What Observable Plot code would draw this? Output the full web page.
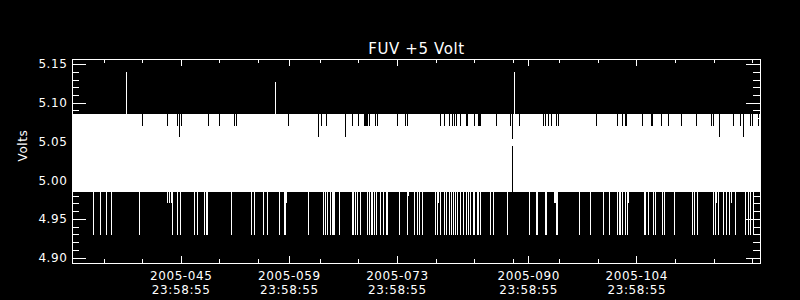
<!DOCTYPE html>
<html>
<head>
<meta charset="utf-8">
<script src="https://cdn.jsdelivr.net/npm/d3@7"></script>
<script src="https://cdn.jsdelivr.net/npm/@observablehq/plot@0.6"></script>
<style>
  html, body { margin: 0; padding: 0; background: #000; }
  #chart svg { display: block; }
  #chart svg text { letter-spacing: 0.6px; }
</style>
</head>
<body>
<div id="chart"></div>
<script>
// ---- data (day-of-year 2005, Volts) ----
const title = "FUV +5 Volt";
const yLabel = "Volts";
const xDomain = [31.92, 121.02];
const yDomain = [4.893, 5.1565];
const yMajor = [4.90, 4.95, 5.00, 5.05, 5.10, 5.15];
const yMinor = [4.91, 4.92, 4.93, 4.94, 4.96, 4.97, 4.98, 4.99, 5.01, 5.02, 5.03, 5.04,
                5.06, 5.07, 5.08, 5.09, 5.11, 5.12, 5.13, 5.14];
const xMajor = [45.9992, 59.9992, 73.9992, 90.9992, 104.9992];
const xLabels = ["2005-045\n23:58:55", "2005-059\n23:58:55", "2005-073\n23:58:55",
                 "2005-090\n23:58:55", "2005-104\n23:58:55"];
const xMinor = [36, 41, 51, 56, 64, 69, 79, 84, 89, 95, 100, 110, 115, 120];

// dense oscillation envelope of the telemetry
const seriesSpan = [[31.92, 121.02]];
const bandLow = 4.985, bandHigh = 5.085;

// times where the upper envelope only reached 5.070
const dipShort = [41.03, 44.19, 45.56, 46.04, 49.57, 51.00, 52.94, 53.20, 59.93, 64.13, 64.86,
  68.22, 69.00, 69.78, 69.91, 70.04, 70.17, 70.35, 71.20, 71.46, 74.05, 75.09, 75.35, 79.62,
  80.14, 80.75, 81.17, 81.43, 81.69, 82.13, 82.99, 83.12, 83.94, 84.46, 84.59, 84.72, 86.79,
  88.68, 89.85, 92.96, 93.14, 93.60, 93.95, 94.64, 94.90, 99.82, 102.54, 103.19, 103.50,
  103.67, 105.78, 106.87, 106.99, 108.24, 109.11, 110.83, 112.77, 114.71, 114.93, 117.52,
  118.47, 119.76, 120.02, 120.76];
const dipShortTo = 5.070;
// times where the upper envelope only reached 5.056
const dipLong = [45.82, 63.82, 67.24, 115.75, 118.86];
const dipLongTo = 5.056;

// low excursions to 4.929
const drops = [34.68, 35.59, 36.37, 36.94, 40.64, 44.91, 45.56, 45.95, 47.68, 48.15, 49.02,
  49.24, 49.44, 52.55, 55.07, 55.53, 56.70, 57.21, 58.69, 59.42, 59.55, 62.52, 64.47, 64.69,
  64.91, 65.30, 65.55, 65.72, 65.89, 66.54, 68.14, 68.35, 68.57, 68.87, 69.22, 70.17, 70.39,
  70.61, 70.77, 71.03, 71.33, 71.81, 72.24, 72.63, 72.76, 74.27, 75.27, 76.21, 76.56, 76.90,
  77.29, 78.97, 79.15, 79.58, 80.10, 80.40, 80.71, 81.00, 81.22, 81.52, 81.74, 82.17, 82.60,
  82.91, 83.17, 83.46, 83.81, 84.02, 84.33, 84.54, 84.76, 86.05, 86.40, 88.30, 91.07, 91.97,
  92.14, 93.18, 93.35, 94.64, 94.77, 97.62, 99.04, 100.73, 101.50, 102.46, 102.72, 102.93,
  103.19, 103.58, 103.76, 105.96, 106.17, 106.55, 107.20, 107.46, 108.29, 108.63, 109.88,
  112.17, 112.51, 112.86, 114.97, 115.15, 115.62, 116.27, 116.58, 117.01, 117.78, 119.04,
  119.47, 119.76, 120.07];
const dropsTo = 4.929;
// shallow low excursions
const dropsShallow = [44.26, 44.48, 44.70, 59.68, 79.36, 94.30, 94.47, 103.96, 115.32, 117.26];
const dropsShallowTo = 4.971;
const dropsTiny = [75.47];
const dropsTinyTo = 4.979;

// high spikes
const spikeDays = [38.95, 58.25, 89.20];
const spikeVals = [5.140, 5.127, 5.140];
// data gap around day 088.9
const gapDay = [88.94];
const gapTop = [5.053];
const gapBottom = [5.044];

// ---- layout ----
const W = 800, H = 300, mL = 72, mR = 40, mT = 59, mB = 37;
const plotW = W - mL - mR, plotH = H - mT - mB;
const yMajLen = 14, yMinLen = 7, xMajLen = 7, xMinLen = 4;
const crisp = {shapeRendering: "crispEdges"};

const chart = Plot.plot({
  width: W, height: H,
  marginLeft: mL, marginRight: mR, marginTop: mT, marginBottom: mB,
  x: {type: "linear", domain: xDomain, axis: null},
  y: {type: "linear", domain: yDomain, axis: null},
  style: {background: "black", color: "white", fontFamily: "DejaVu Sans"},
  marks: [
    Plot.rect(seriesSpan, {x1: d => d[0], x2: d => d[1], y1: () => bandLow, y2: () => bandHigh, fill: "white", ...crisp}),
    Plot.ruleX(drops, {x: d => d, y1: () => bandLow, y2: () => dropsTo, stroke: "white", ...crisp}),
    Plot.ruleX(dropsShallow, {x: d => d, y1: () => bandLow, y2: () => dropsShallowTo, stroke: "white", ...crisp}),
    Plot.ruleX(dropsTiny, {x: d => d, y1: () => bandLow, y2: () => dropsTinyTo, stroke: "white", ...crisp}),
    Plot.ruleX(spikeDays, {x: d => d, y1: () => bandHigh, y2: (d, i) => spikeVals[i], stroke: "white", ...crisp}),
    Plot.ruleX(dipShort, {x: d => d, y1: () => bandHigh, y2: () => dipShortTo, stroke: "black", ...crisp}),
    Plot.ruleX(dipLong, {x: d => d, y1: () => bandHigh, y2: () => dipLongTo, stroke: "black", ...crisp}),
    Plot.ruleX(gapDay, {x: d => d, y1: () => bandHigh, y2: (d, i) => gapTop[i], stroke: "black", ...crisp}),
    Plot.ruleX(gapDay, {x: d => d, y1: (d, i) => gapBottom[i], y2: () => bandLow, stroke: "black", ...crisp}),
    // y ticks (left & right, inward)
    Plot.tickY(yMajor, {y: d => d, stroke: "white", insetRight: plotW - yMajLen, ...crisp}),
    Plot.tickY(yMinor, {y: d => d, stroke: "white", insetRight: plotW - yMinLen, ...crisp}),
    Plot.tickY(yMajor, {y: d => d, stroke: "white", insetLeft: plotW - yMajLen, ...crisp}),
    Plot.tickY(yMinor, {y: d => d, stroke: "white", insetLeft: plotW - yMinLen, ...crisp}),
    // x ticks (bottom & top, inward)
    Plot.tickX(xMajor, {x: d => d, stroke: "white", insetTop: plotH - xMajLen, ...crisp}),
    Plot.tickX(xMinor, {x: d => d, stroke: "white", insetTop: plotH - xMinLen, ...crisp}),
    Plot.tickX(xMajor, {x: d => d, stroke: "white", insetBottom: plotH - xMajLen, ...crisp}),
    Plot.tickX(xMinor, {x: d => d, stroke: "white", insetBottom: plotH - xMinLen, ...crisp}),
    Plot.frame({stroke: "white", ...crisp}),
    // labels
    Plot.text(yMajor, {y: d => d, frameAnchor: "left", textAnchor: "end", dx: -5, text: d => d.toFixed(2), fill: "white", fontSize: 12}),
    Plot.text(xMajor, {x: d => d, frameAnchor: "bottom", lineAnchor: "top", dy: 6, lineHeight: 1.2, text: (d, i) => xLabels[i], fill: "white", fontSize: 12}),
    Plot.text([title], {frameAnchor: "top", lineAnchor: "bottom", dy: -6, text: d => d, fill: "white", fontSize: 15}),
    Plot.text([yLabel], {frameAnchor: "left", dx: -49, rotate: -90, text: d => d, fill: "white", fontSize: 12})
  ]
});
document.getElementById("chart").appendChild(chart);
d3.select(chart).selectAll("text").filter(function () { return this.textContent === title; })
  .attr("letter-spacing", "0.8px");
</script>
</body>
</html>
